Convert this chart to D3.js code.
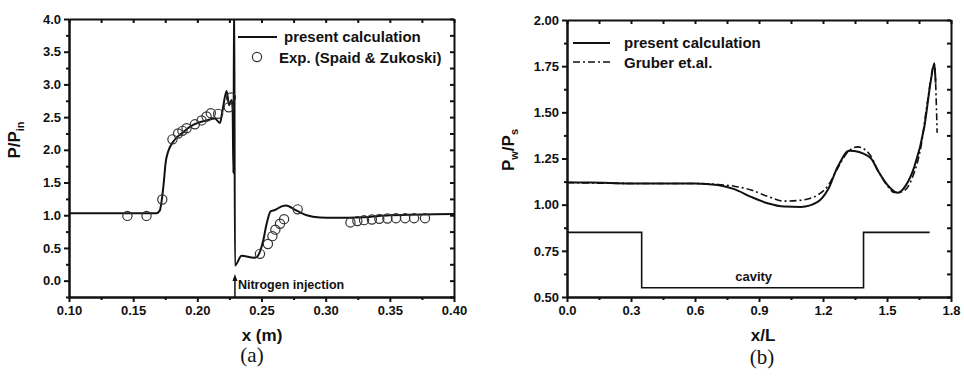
<!DOCTYPE html>
<meta charset="utf-8">
<style>
body { margin: 0; background: #fff; }
svg { display: block; }
.axis text { font-family: "Liberation Sans", Arial, sans-serif; font-weight: bold; font-size: 13px; fill: #111; }
.axis path, .axis line { stroke: #111; stroke-width: 2px; }
.lbl { font-family: "Liberation Sans", Arial, sans-serif; font-weight: bold; fill: #111; }
.cap { font-family: "Liberation Serif", "Times New Roman", serif; font-size: 21px; fill: #111; }
</style>
<body>
<div id="fig"></div>
<script src="https://cdn.jsdelivr.net/npm/d3@7"></script>
<script>
// panel (a): wall pressure around the nitrogen jet
var calcAx = [0.100, 0.168, 0.1707, 0.1729, 0.1740, 0.1752, 0.1772, 0.1810, 0.1889, 0.1967,
              0.2072, 0.2137, 0.2176, 0.2197, 0.2228, 0.2248, 0.2267, 0.2275, 0.2281, 0.2287,
              0.2293, 0.2345, 0.2441, 0.2462, 0.2513, 0.2540, 0.2571, 0.2604, 0.2657, 0.2690,
              0.2774, 0.2852, 0.2956, 0.3060, 0.3300, 0.3500, 0.4000];
var calcAy = [1.03, 1.03, 1.07, 1.33, 1.53, 1.79, 1.97, 2.12, 2.27, 2.38,
              2.45, 2.48, 2.41, 2.61, 2.90, 2.68, 2.76, 2.62, 1.64, 4.50,
              0.23, 0.38, 0.35, 0.36, 0.61, 0.87, 1.06, 1.08, 1.135, 1.15,
              1.07, 1.00, 0.965, 0.96, 0.97, 1.00, 1.02];
var expAx = [0.1455, 0.1604, 0.1727, 0.1806, 0.1850, 0.1884, 0.1916, 0.1981, 0.2033, 0.2072,
             0.2105, 0.2162, 0.2245, 0.2262, 0.2488, 0.2550, 0.2585, 0.2608, 0.2644, 0.2676,
             0.2782, 0.3193, 0.3247, 0.3299, 0.3360, 0.3418, 0.3481, 0.3548, 0.3619, 0.3689, 0.3774];
var expAy = [0.99, 0.99, 1.24, 2.16, 2.25, 2.29, 2.33, 2.39, 2.45, 2.51,
             2.56, 2.55, 2.65, 2.80, 0.41, 0.56, 0.68, 0.78, 0.87, 0.94,
             1.09, 0.89, 0.91, 0.925, 0.935, 0.945, 0.95, 0.955, 0.955, 0.955, 0.955];
var ticksAx = [0.10, 0.15, 0.20, 0.25, 0.30, 0.35, 0.40];
var ticksAy = [0.0, 0.5, 1.0, 1.5, 2.0, 2.5, 3.0, 3.5, 4.0];

// panel (b): cavity wall pressure
var calcBx = [0, 0.1, 0.3, 0.5, 0.6, 0.706, 0.784, 0.863, 0.94, 1.019, 1.097, 1.175, 1.222,
              1.269, 1.323, 1.347, 1.425, 1.456, 1.503, 1.55, 1.589, 1.628, 1.675, 1.706, 1.722, 1.728];
var calcBy = [1.12, 1.12, 1.115, 1.115, 1.115, 1.106, 1.084, 1.042, 1.008, 0.99, 0.988, 1.015, 1.079,
              1.205, 1.292, 1.29, 1.25, 1.187, 1.106, 1.064, 1.106, 1.205, 1.422, 1.675, 1.766, 1.66];
var gruberX = [0, 0.3, 0.6, 0.7, 0.784, 0.863, 0.94, 1.019, 1.097, 1.175, 1.222, 1.27,
               1.32, 1.363, 1.42, 1.46, 1.503, 1.534, 1.57, 1.62, 1.66, 1.69, 1.722, 1.735];
var gruberY = [1.12, 1.115, 1.115, 1.11, 1.10, 1.079, 1.045, 1.019, 1.024, 1.052, 1.10, 1.20,
               1.29, 1.313, 1.27, 1.18, 1.10, 1.066, 1.07, 1.15, 1.32, 1.56, 1.76, 1.39];
var cavityX = [0, 0.35, 0.35, 1.39, 1.39, 1.70];
var cavityY = [0.85, 0.85, 0.55, 0.55, 0.85, 0.85];
var ticksBx = [0.0, 0.3, 0.6, 0.9, 1.2, 1.5, 1.8];
var ticksBy = [0.50, 0.75, 1.00, 1.25, 1.50, 1.75, 2.00];

function zip(xs, ys) {
  return xs.map(function (x, i) { return [x, ys[i]]; });
}

var svg = d3.select("#fig").append("svg")
    .attr("width", 964)
    .attr("height", 379);

// frame + origin style ticks (out on bottom/left, in on top/right)
function makePanel(id, box, xDom, yDom, xt, yt, xFmt, yFmt) {
  var x = d3.scaleLinear().domain(xDom).range([box.left, box.right]);
  var y = d3.scaleLinear().domain(yDom).range([box.bottom, box.top]);
  var g = svg.append("g");

  var xStep = xt[1] - xt[0], yStep = yt[1] - yt[0];
  var xMinor = d3.range(xt[0] + xStep / 2, xt[xt.length - 1], xStep);
  var yMinor = d3.range(yt[0] + yStep / 2, yDom[1], yStep);
  if (yDom[0] < yt[0]) yMinor.push(yt[0] - yStep / 2);

  g.append("g").attr("class", "axis")
    .attr("transform", "translate(0," + box.bottom + ")")
    .call(d3.axisBottom(x).tickValues(xt).tickSize(5).tickSizeOuter(0).tickPadding(4).tickFormat(d3.format(xFmt)));
  g.append("g").attr("class", "axis")
    .attr("transform", "translate(0," + box.bottom + ")")
    .call(d3.axisBottom(x).tickValues(xMinor).tickSize(3).tickSizeOuter(0).tickFormat(""));
  g.append("g").attr("class", "axis")
    .attr("transform", "translate(" + box.left + ",0)")
    .call(d3.axisLeft(y).tickValues(yt).tickSize(5).tickSizeOuter(0).tickPadding(3).tickFormat(d3.format(yFmt)));
  g.append("g").attr("class", "axis")
    .attr("transform", "translate(" + box.left + ",0)")
    .call(d3.axisLeft(y).tickValues(yMinor).tickSize(3).tickSizeOuter(0).tickFormat(""));
  g.append("g").attr("class", "axis")
    .attr("transform", "translate(0," + box.top + ")")
    .call(d3.axisTop(x).tickValues(xt.concat(xMinor)).tickSize(-4).tickSizeOuter(0).tickFormat(""));
  g.append("g").attr("class", "axis")
    .attr("transform", "translate(" + box.right + ",0)")
    .call(d3.axisRight(y).tickValues(yt.concat(yMinor)).tickSize(-4).tickSizeOuter(0).tickFormat(""));

  svg.append("clipPath").attr("id", id)
    .append("rect")
    .attr("x", box.left).attr("y", box.top)
    .attr("width", box.right - box.left).attr("height", box.bottom - box.top);

  return { x: x, y: y, g: g, clip: "url(#" + id + ")" };
}

// ---- panel (a)
var A = makePanel("clipA", {left: 69, right: 454, top: 19, bottom: 297},
                  [0.10, 0.40], [-0.25, 4.0], ticksAx, ticksAy, ".2f", ".1f");

var lineA = d3.line()
    .x(function (d) { return A.x(d[0]); })
    .y(function (d) { return A.y(d[1]); })
    .curve(d3.curveMonotoneX);

A.g.append("path")
    .datum(zip(calcAx, calcAy))
    .attr("clip-path", A.clip)
    .attr("d", lineA)
    .attr("fill", "none")
    .attr("stroke", "#111")
    .attr("stroke-width", 2);

A.g.selectAll("circle.exp")
    .data(zip(expAx, expAy))
    .enter().append("circle")
    .attr("class", "exp")
    .attr("cx", function (d) { return A.x(d[0]); })
    .attr("cy", function (d) { return A.y(d[1]); })
    .attr("r", 4.6)
    .attr("fill", "none")
    .attr("stroke", "#333")
    .attr("stroke-width", 1.2);

// injection arrow
var injX = 0.2293;
A.g.append("line")
    .attr("x1", A.x(injX)).attr("x2", A.x(injX))
    .attr("y1", A.y(-0.25)).attr("y2", A.y(0.05))
    .attr("stroke", "#111").attr("stroke-width", 1.5);
A.g.append("path")
    .attr("d", "M" + A.x(injX) + "," + A.y(0.10) + "l-2.5,7h5z")
    .attr("fill", "#111");
A.g.append("text").attr("class", "lbl")
    .attr("x", A.x(injX) + 3).attr("y", 289)
    .style("font-size", "12.5px")
    .text("Nitrogen injection");

// legend (a)
A.g.append("line").attr("x1", 238).attr("x2", 277).attr("y1", 37).attr("y2", 37)
    .attr("stroke", "#111").attr("stroke-width", 2);
A.g.append("text").attr("class", "lbl").attr("x", 284).attr("y", 42)
    .style("font-size", "15px").text("present calculation");
A.g.append("circle").attr("cx", 257).attr("cy", 57).attr("r", 4.6)
    .attr("fill", "none").attr("stroke", "#333").attr("stroke-width", 1.2);
A.g.append("text").attr("class", "lbl").attr("x", 279).attr("y", 63)
    .style("font-size", "15px").text("Exp. (Spaid & Zukoski)");

// axis titles (a)
A.g.append("text").attr("class", "lbl")
    .attr("x", 262).attr("y", 341)
    .attr("text-anchor", "middle")
    .style("font-size", "17px")
    .text("x (m)");
var yTitleA = A.g.append("text").attr("class", "lbl")
    .attr("transform", "translate(20,140) rotate(-90)")
    .attr("text-anchor", "middle")
    .style("font-size", "17px");
yTitleA.append("tspan").text("P/P");
yTitleA.append("tspan").attr("dy", 4).style("font-size", "11px").text("in");
svg.append("text").attr("class", "cap")
    .attr("x", 252).attr("y", 362)
    .attr("text-anchor", "middle")
    .text("(a)");

// ---- panel (b)
var B = makePanel("clipB", {left: 567, right: 951, top: 20, bottom: 297},
                  [0, 1.8], [0.5, 2.0], ticksBx, ticksBy, ".1f", ".2f");

var lineB = d3.line()
    .x(function (d) { return B.x(d[0]); })
    .y(function (d) { return B.y(d[1]); });

B.g.append("path")
    .datum(zip(cavityX, cavityY))
    .attr("d", lineB)
    .attr("fill", "none")
    .attr("stroke", "#111")
    .attr("stroke-width", 1.6);

B.g.append("path")
    .datum(zip(gruberX, gruberY))
    .attr("clip-path", B.clip)
    .attr("d", lineB.curve(d3.curveMonotoneX))
    .attr("fill", "none")
    .attr("stroke", "#111")
    .attr("stroke-width", 1.6)
    .attr("stroke-dasharray", "7,3,2,3");

B.g.append("path")
    .datum(zip(calcBx, calcBy))
    .attr("clip-path", B.clip)
    .attr("d", lineB.curve(d3.curveMonotoneX))
    .attr("fill", "none")
    .attr("stroke", "#111")
    .attr("stroke-width", 2);

B.g.append("text").attr("class", "lbl")
    .attr("x", B.x(0.875)).attr("y", 281)
    .attr("text-anchor", "middle")
    .style("font-size", "13px")
    .text("cavity");

// legend (b)
B.g.append("line").attr("x1", 573).attr("x2", 610).attr("y1", 43).attr("y2", 43)
    .attr("stroke", "#111").attr("stroke-width", 1.8);
B.g.append("text").attr("class", "lbl").attr("x", 624).attr("y", 48)
    .style("font-size", "15px").text("present calculation");
B.g.append("line").attr("x1", 573).attr("x2", 610).attr("y1", 62).attr("y2", 62)
    .attr("stroke", "#111").attr("stroke-width", 1.6).attr("stroke-dasharray", "7,3,2,3");
B.g.append("text").attr("class", "lbl").attr("x", 624).attr("y", 68)
    .style("font-size", "15px").text("Gruber et.al.");

// axis titles (b)
B.g.append("text").attr("class", "lbl")
    .attr("x", 763).attr("y", 341)
    .attr("text-anchor", "middle")
    .style("font-size", "17px")
    .text("x/L");
var yTitleB = B.g.append("text").attr("class", "lbl")
    .attr("transform", "translate(514,150) rotate(-90)")
    .attr("text-anchor", "middle")
    .style("font-size", "17px");
yTitleB.append("tspan").text("P");
yTitleB.append("tspan").attr("dy", 4).style("font-size", "11px").text("w");
yTitleB.append("tspan").attr("dy", -4).text("/P");
yTitleB.append("tspan").attr("dy", 4).style("font-size", "11px").text("s");
svg.append("text").attr("class", "cap")
    .attr("x", 762).attr("y", 364)
    .attr("text-anchor", "middle")
    .text("(b)");
</script>
